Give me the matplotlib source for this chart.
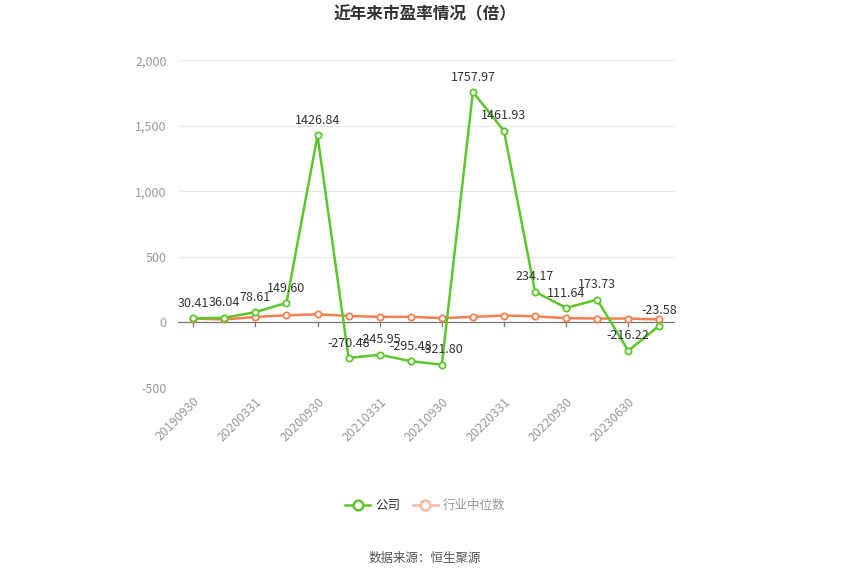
import numpy as np
import matplotlib.pyplot as plt
from matplotlib.ticker import FuncFormatter
from matplotlib.lines import Line2D

plt.rcParams['font.family'] = ['Noto Sans CJK SC', 'DejaVu Sans']

dates = ['20190930', '20191231', '20200331', '20200630', '20200930', '20201231',
         '20210331', '20210630', '20210930', '20211231', '20220331', '20220630',
         '20220930', '20221231', '20230630', '20230930']
company = [30.41, 36.04, 78.61, 149.60, 1426.84, -270.48, -245.95, -295.48,
           -321.80, 1757.97, 1461.93, 234.17, 111.64, 173.73, -216.22, -23.58]
industry = [30, 23, 42, 55, 62, 50, 43, 43, 33, 43, 53, 47, 33, 30, 30, 23]

green = '#5cc72a'
orange = '#f5804f'

fig = plt.figure(figsize=(8.5, 5.74), dpi=100)
ax = fig.add_axes([0.209, 0.324, 0.585, 0.571])

x = np.arange(len(dates))
ax.plot(x, industry, color=orange, lw=1.8, marker='o', ms=4.5,
        mfc='white', mec=orange, mew=1.3, zorder=3)
ax.plot(x, company, color=green, lw=1.8, marker='o', ms=4.5,
        mfc='white', mec=green, mew=1.3, zorder=4)

for xi, v in zip(x, company):
    ax.annotate(f'{v:.2f}', (xi, v), xytext=(0, 6), textcoords='offset points',
                ha='center', va='bottom', fontsize=9, color='#333333', zorder=5)

ax.set_xlim(-0.5, len(dates) - 0.5)
ax.set_ylim(-500, 2000)
ax.set_yticks([-500, 0, 500, 1000, 1500, 2000])
ax.yaxis.set_major_formatter(FuncFormatter(lambda v, p: f'{int(v):,}'))
ax.grid(axis='y', color='#e6e9ef', lw=0.8)
ax.set_axisbelow(True)
for s in ax.spines.values():
    s.set_visible(False)
ax.axhline(0, color='#777777', lw=0.9, zorder=2)

ax.set_xticks(x[::2])
ax.set_xticklabels(dates[::2], rotation=45, ha='right', rotation_mode='anchor',
                   fontsize=9, color='#999999')
ax.tick_params(axis='x', length=0, pad=5)
ax.tick_params(axis='y', length=0, labelsize=9, labelcolor='#999999', pad=8)
for xt in x[::2]:
    ax.plot([xt, xt], [0, -25], color='#777777', lw=0.9, zorder=2, clip_on=False)

fig.text(0.5, 0.99, '近年来市盈率情况（倍）', ha='center', va='top',
         fontsize=12, fontweight='bold', color='#333333')

handles = [
    Line2D([], [], color=green, lw=1.8, marker='o', ms=7, mfc='white', mec=green, mew=1.8),
    Line2D([], [], color='#fbb7a0', lw=1.8, marker='o', ms=7, mfc='white', mec='#fbb7a0', mew=1.8),
]
leg = fig.legend(handles, ['公司', '行业中位数'], loc='center', bbox_to_anchor=(0.5, 0.119),
                 ncol=2, frameon=False, fontsize=9, handlelength=2.0, columnspacing=1.0,
                 handletextpad=0.4)
leg.get_texts()[0].set_color('#333333')
leg.get_texts()[1].set_color('#999999')

fig.text(0.5, 0.028, '数据来源：恒生聚源', ha='center', va='center', fontsize=9, color='#555555')

fig.savefig('out.png', dpi=100)
